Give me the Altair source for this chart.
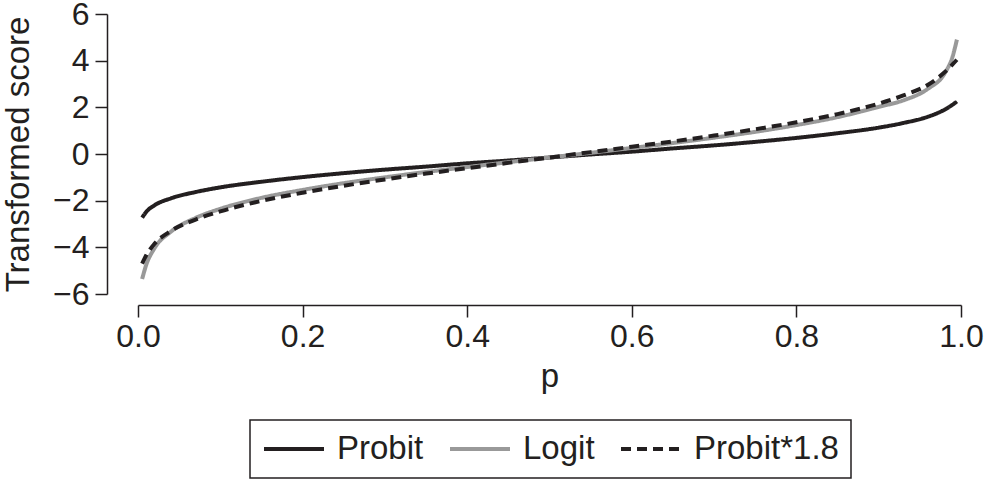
import altair as alt
import pandas as pd

# Probability grid and the three transformed scores read along it
p_vals = [0.005, 0.01, 0.02, 0.04, 0.07, 0.10, 0.15, 0.20, 0.25, 0.30, 0.35,
          0.40, 0.45, 0.50, 0.55, 0.60, 0.65, 0.70, 0.75, 0.80, 0.85, 0.90,
          0.93, 0.96, 0.98, 0.99, 0.995]

probit = [-2.73, -2.48, -2.20, -1.90, -1.63, -1.43, -1.19, -0.99, -0.82, -0.67,
          -0.54, -0.40, -0.28, -0.15, -0.02, 0.10, 0.24, 0.37, 0.52, 0.69, 0.89,
          1.13, 1.33, 1.60, 1.90, 2.12, 2.25]

logit = [-5.36, -4.75, -4.04, -3.33, -2.74, -2.35, -1.88, -1.54, -1.25, -1.00,
         -0.77, -0.56, -0.35, -0.15, 0.05, 0.26, 0.47, 0.70, 0.95, 1.24, 1.58,
         2.02, 2.30, 2.80, 3.45, 4.20, 4.90]

probit18 = [-4.70, -4.34, -3.85, -3.30, -2.81, -2.46, -2.01, -1.66, -1.36, -1.09,
            -0.84, -0.61, -0.38, -0.15, 0.08, 0.31, 0.54, 0.79, 1.06, 1.36, 1.71,
            2.16, 2.51, 2.97, 3.50, 3.85, 4.04]

series_names = ["Probit", "Logit", "Probit*1.8"]
series_values = [probit, logit, probit18]

rows = []
for name, vals in zip(series_names, series_values):
    for p, v in zip(p_vals, vals):
        rows.append({"p": p, "score": v, "series": name})
df = pd.DataFrame(rows)

FONT = "Liberation Sans"
INK = "#231f20"


def series_legend():
    # Wide horizontal line swatch: the path spans twice the nominal symbol width,
    # so a short row height still gets long sample lines.
    return alt.Legend(
        title=None,
        orient="none",
        legendX=112,
        legendY=406,
        direction="horizontal",
        columns=3,
        symbolType="M-2,0H2",
        symbolSize=900,
        symbolOffset=15,
        symbolStrokeWidth=4,
        labelFontSize=33,
        labelOffset=26,
        columnPadding=18,
        padding=12,
        strokeColor=INK,
        fillColor="white",
        labelLimit=400,
    )


chart = (
    alt.Chart(df)
    .mark_line(strokeWidth=4, interpolate="monotone")
    .encode(
        x=alt.X(
            "p:Q",
            scale=alt.Scale(domain=[0, 1], nice=False, zero=False),
            axis=alt.Axis(
                values=[0, 0.2, 0.4, 0.6, 0.8, 1.0],
                format=".1f",
                offset=11,
                tickSize=12,
                labelPadding=4,
                labelFlush=False,
                title="p",
                titlePadding=8,
            ),
        ),
        y=alt.Y(
            "score:Q",
            scale=alt.Scale(domain=[-6, 6], nice=False),
            axis=alt.Axis(
                values=[-6, -4, -2, 0, 2, 4, 6],
                offset=31,
                tickSize=12,
                labelPadding=6,
                labelFlush=False,
                title="Transformed score",
                titlePadding=17,
            ),
        ),
        color=alt.Color(
            "series:N",
            sort=series_names,
            scale=alt.Scale(domain=series_names, range=[INK, "#999999", INK]),
            legend=series_legend(),
        ),
        strokeDash=alt.StrokeDash(
            "series:N",
            sort=series_names,
            scale=alt.Scale(domain=series_names, range=[[1, 0], [1, 0], [10, 6]]),
            legend=series_legend(),
        ),
    )
    .properties(
        width=823,
        height=280,
        autosize=alt.AutoSizeParams(type="none"),
        padding={"left": 138, "top": 14, "right": 23, "bottom": 189},
    )
    .configure_view(stroke=None)
    .configure_axis(
        grid=False,
        domainColor=INK,
        domainWidth=1.5,
        tickColor=INK,
        tickWidth=1.5,
        labelColor=INK,
        titleColor=INK,
        labelFont=FONT,
        titleFont=FONT,
        labelFontSize=32,
        titleFontSize=33,
        titleFontWeight="normal",
    )
    .configure_legend(labelFont=FONT, labelColor=INK, strokeWidth=1.5)
)

chart.save("out.html", embed_options={"renderer": "svg", "actions": False})
